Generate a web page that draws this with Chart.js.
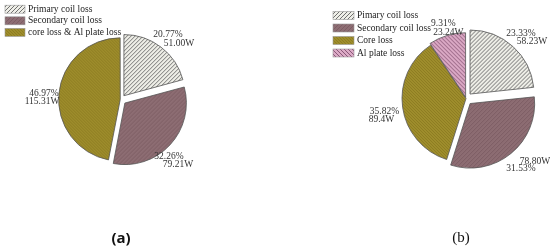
<!DOCTYPE html>
<html>
<head>
<meta charset="utf-8">
<script src="https://cdn.jsdelivr.net/npm/chart.js@4.4.0/dist/chart.umd.min.js"></script>
<style>
	body { margin: 0; background: #fff; }
	.wrap { position: relative; width: 550px; height: 249px; overflow: hidden; }
	canvas { position: absolute; top: 0; }
	#chartA { left: 0; }
	#chartB { left: 275px; }
	.tag { position: absolute; top: 228px; width: 40px; text-align: center; font-size: 15px; line-height: 18px; color: #111; }
	#tagA { left: 101px; font-family: "Open Sans", sans-serif; font-weight: bold; }
	#tagB { left: 441px; font-family: "Liberation Serif", serif; }
</style>
</head>
<body>
<div class="wrap">
	<canvas id="chartA" width="275" height="249"></canvas>
	<canvas id="chartB" width="275" height="249"></canvas>
	<div class="tag" id="tagA">(a)</div>
	<div class="tag" id="tagB">(b)</div>
</div>
<script>
// (a) three loss parts, W
const namesA = ['Primary coil loss', 'Secondary coil loss', 'core loss & Al plate loss'];
const lossA = [51.00, 79.21, 115.31];
const pctA = ['20.77%', '32.26%', '46.97%'];
const wattA = ['51.00W', '79.21W', '115.31W'];

// (b) four loss parts, W
const namesB = ['Pimary coil loss', 'Secondary coil loss', 'Core loss', 'Al plate loss'];
const lossB = [58.23, 78.80, 89.4, 23.24];
const pctB = ['23.33%', '31.53%', '35.82%', '9.31%'];
const wattB = ['58.23W', '78.80W', '89.4W', '23.24W'];

function stripes(bg, fg, dir, gap) {
	const c = document.createElement('canvas');
	c.width = gap;
	c.height = gap;
	const g = c.getContext('2d');
	g.fillStyle = bg;
	g.fillRect(0, 0, gap, gap);
	g.strokeStyle = fg;
	g.lineWidth = 1;
	g.beginPath();
	if (dir > 0) {
		g.moveTo(0, gap); g.lineTo(gap, 0);
		g.moveTo(-1, 1); g.lineTo(1, -1);
		g.moveTo(gap - 1, gap + 1); g.lineTo(gap + 1, gap - 1);
	} else {
		g.moveTo(0, 0); g.lineTo(gap, gap);
		g.moveTo(gap - 1, -1); g.lineTo(gap + 1, 1);
		g.moveTo(-1, gap - 1); g.lineTo(1, gap + 1);
	}
	g.stroke();
	return g.createPattern(c, 'repeat');
}

const fillPrimary = stripes('#efefe8', '#707070', 1, 4);
const fillSecondary = stripes('#8d6d73', '#7d5d64', 1, 4);
const fillCore = stripes('#9e8d2c', '#8e7d22', -1, 3);
const fillAl = stripes('#dcaac6', '#8a5878', -1, 4);

// slice texts + legend, drawn after the pie
const pieText = {
	id: 'pieText',
	afterDraw(chart, args, opts) {
		const ctx = chart.ctx;
		const meta = chart.getDatasetMeta(0);
		const ds = chart.data.datasets[0];
		ctx.save();
		ctx.font = '9.5px "Liberation Serif", serif';
		ctx.textBaseline = 'middle';
		ctx.textAlign = 'center';
		ctx.fillStyle = '#333';
		meta.data.forEach((arc, i) => {
			opts.lines[i].forEach((t, j) => {
				const o = opts.spots[i][j];
				ctx.fillText(t, arc.x + o[0], arc.y + o[1]);
			});
		});
		const lg = opts.legend;
		ctx.textAlign = 'left';
		chart.data.labels.forEach((name, i) => {
			const y = lg.y + i * lg.step;
			ctx.fillStyle = ds.backgroundColor[i];
			ctx.fillRect(lg.x, y - 4, lg.w, 8);
			ctx.strokeStyle = '#999';
			ctx.lineWidth = 0.6;
			ctx.strokeRect(lg.x, y - 4, lg.w, 8);
			ctx.fillStyle = '#222';
			ctx.fillText(name, lg.x + lg.w + 3, y);
		});
		ctx.restore();
	}
};

// note: chart.js v4 draws an arc offset as offset/4 (more for wide slices)
new Chart(document.getElementById('chartA'), {
	type: 'pie',
	plugins: [pieText],
	data: {
		labels: namesA,
		datasets: [{
			data: lossA,
			backgroundColor: [fillPrimary, fillSecondary, fillCore],
			borderColor: '#555',
			borderWidth: 0.8,
			offset: [19, 21, 3],
			radius: 61
		}]
	},
	options: {
		responsive: false,
		animation: false,
		layout: { padding: { left: 0, right: 33, top: 0, bottom: 50 } },
		plugins: {
			legend: { display: false },
			tooltip: { enabled: false },
			pieText: {
				lines: [[pctA[0], wattA[0]], [pctA[1], wattA[1]], [pctA[2], wattA[2]]],
				spots: [[[47, -65], [58, -56]], [[48, 56.5], [57, 65]], [[-77, -6.5], [-79, 2]]],
				legend: { x: 5, y: 9.2, step: 11.6, w: 20 }
			}
		}
	}
});

new Chart(document.getElementById('chartB'), {
	type: 'pie',
	plugins: [pieText],
	data: {
		labels: namesB,
		datasets: [{
			data: lossB,
			backgroundColor: [fillPrimary, fillSecondary, fillCore, fillAl],
			borderColor: '#555',
			borderWidth: 0.8,
			offset: [24, 26, 0, 5],
			radius: 64
		}]
	},
	options: {
		responsive: false,
		animation: false,
		layout: { padding: { left: 107, right: 0, top: 0, bottom: 52 } },
		plugins: {
			legend: { display: false },
			tooltip: { enabled: false },
			pieText: {
				lines: [[pctB[0], wattB[0]], [wattB[1], pctB[1]], [pctB[2], wattB[2]], [pctB[3], wattB[3]]],
				spots: [[[55, -65], [66, -57.5]], [[69, 62.5], [55, 69.5]], [[-81.5, 13], [-84.5, 20.5]], [[-22.7, -75], [-17.7, -66.5]]],
				legend: { x: 58, y: 15.5, step: 12.5, w: 21 }
			}
		}
	}
});
</script>
</body>
</html>
